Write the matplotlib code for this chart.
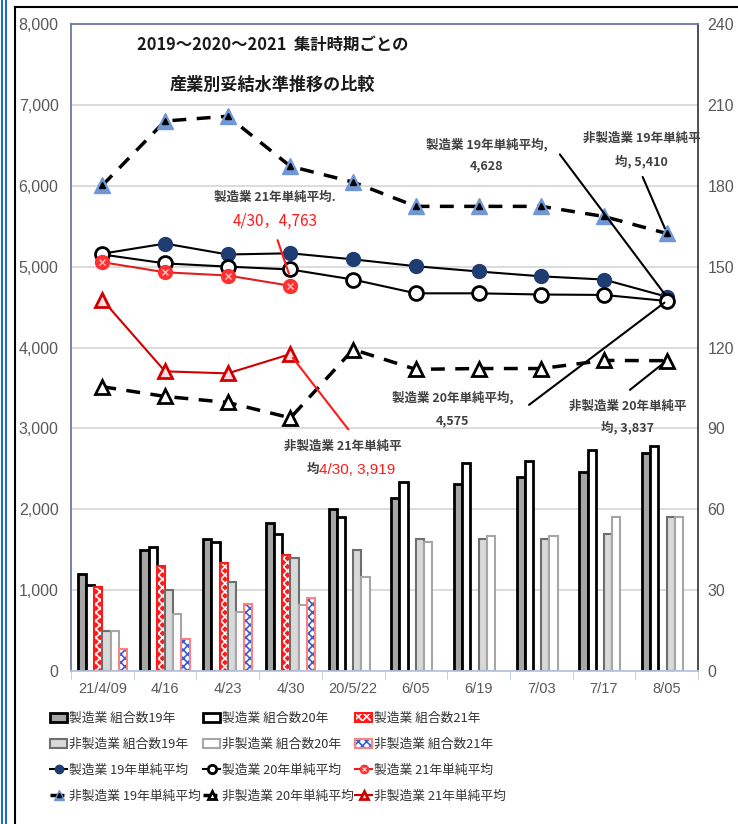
import numpy as np
import matplotlib
matplotlib.use('Agg')
import matplotlib.pyplot as plt
from matplotlib.patches import Patch
from matplotlib.lines import Line2D

plt.rcParams['font.family'] = ['Noto Sans CJK JP', 'DejaVu Sans']
plt.rcParams['hatch.linewidth'] = 1.2

# 集計時期
dates = ['21/4/09', '4/16', '4/23', '4/30', '20/5/22', '6/05', '6/19', '7/03', '7/17', '8/05']
nan = np.nan

# 組合数 (右軸)
cnt_mfg19 = [36, 45, 49, 55, 60, 64, 69.5, 72, 74, 81]
cnt_mfg20 = [32, 46, 48, 51, 57, 70, 77, 78, 82, 83.5]
cnt_mfg21 = [31, 39, 40, 43, nan, nan, nan, nan, nan, nan]
cnt_non19 = [15, 30, 33, 42, 45, 49, 49, 49, 51, 57]
cnt_non20 = [15, 21, 22, 24.5, 35, 48, 50, 50, 57, 57]
cnt_non21 = [8, 12, 25, 27, nan, nan, nan, nan, nan, nan]

# 単純平均 (左軸, 円)
avg_mfg19 = [5160, 5285, 5150, 5165, 5090, 5005, 4940, 4880, 4840, 4628]
avg_mfg20 = [5150, 5040, 5000, 4965, 4840, 4670, 4670, 4655, 4650, 4575]
avg_mfg21 = [5055, 4930, 4890, 4763, nan, nan, nan, nan, nan, nan]
avg_non19 = [6005, 6800, 6860, 6240, 6045, 5745, 5745, 5745, 5620, 5410]
avg_non20 = [3515, 3395, 3320, 3130, 3975, 3730, 3740, 3740, 3840, 3837]
avg_non21 = [4590, 3705, 3680, 3919, nan, nan, nan, nan, nan, nan]

x = np.arange(len(dates))
fig = plt.figure(figsize=(7.38, 8.24), dpi=100)
ax = fig.add_axes([71 / 738, 1 - 671 / 824, 627 / 738, 647 / 824])
ax2 = ax.twinx()
ax.set_zorder(ax2.get_zorder() + 1)
ax.patch.set_visible(False)

# 棒グラフ
bw = 0.131
off = lambda i: (i - 2.5) * bw
ax2.bar(x + off(0), cnt_mfg19, bw, color='#a6a6a6', edgecolor='black', lw=2)
ax2.bar(x + off(1), cnt_mfg20, bw, color='white', edgecolor='black', lw=2)
ax2.bar(x + off(2), cnt_mfg21, bw, color='#ff1a1a', edgecolor='white', hatch='xxxx', lw=0)
ax2.bar(x + off(2), cnt_mfg21, bw, fill=False, edgecolor='#ff1a1a', lw=1.5)
ax2.bar(x + off(3), cnt_non19, bw, color='#d9d9d9', edgecolor='#6e6e6e', lw=1.5)
ax2.bar(x + off(4), cnt_non20, bw, color='white', edgecolor='#a6a6a6', lw=1.5)
ax2.bar(x + off(5), cnt_non21, bw, color='white', edgecolor='#3a5fcd', hatch='xxxx', lw=0)
ax2.bar(x + off(5), cnt_non21, bw, fill=False, edgecolor='#ff8080', lw=1.5)

ax2.set_ylim(0, 240)
ax2.set_yticks(np.arange(0, 241, 30))
ax2.yaxis.grid(True, color='#d9d9d9', lw=1.3)
ax2.set_axisbelow(True)
ax2.tick_params(axis='y', length=0, labelcolor='#595959', labelsize=11.5, pad=7)
for lab in ax2.get_yticklabels():
    lab.set_family(['Liberation Sans'])
for s in ax2.spines.values():
    s.set_visible(False)

# 折れ線
l1, = ax.plot(x, avg_mfg19, '-', color='black', lw=1.5, marker='o', ms=10,
              mfc='#1f3c73', mec='#1f3c73')
l2, = ax.plot(x, avg_mfg20, '-', color='black', lw=1.5, marker='o', ms=10,
              mfc='white', mec='black', mew=2)
l3, = ax.plot(x, avg_mfg21, '-', color='#e02020', lw=1.5, marker='o', ms=10,
              mfc='#ff3030', mec='#ff3030')
l3b, = ax.plot(x, avg_mfg21, ls='none', marker='x', ms=4, mec='#ffc0c0', mew=1)
l4, = ax.plot(x, avg_non19, '--', color='black', lw=2.5, dashes=(4, 3), marker='^', ms=11,
              mfc='#6f97d6', mec='#6f97d6')
l4b, = ax.plot(x, avg_non19, ls='none', marker='^', ms=5, mfc='black', mec='black')
l5, = ax.plot(x, avg_non20, '--', color='black', lw=2.5, dashes=(4, 3), marker='^', ms=10,
              mfc='white', mec='black', mew=2)
l6, = ax.plot(x, avg_non21, '-', color='#d00000', lw=1.5, marker='^', ms=10,
              mfc='#ffe0e0', mec='#d00000', mew=2)

ax.set_xlim(-0.5, 9.5)
ax.set_ylim(0, 8000)
ax.set_yticks(np.arange(0, 8001, 1000))
ax.set_yticklabels([f'{v:,}' for v in range(0, 8001, 1000)], family=['Liberation Sans'])
ax.tick_params(axis='y', length=0, labelcolor='#595959', labelsize=11.5, pad=9)
ax.set_xticks(x)
ax.set_xticklabels(dates, family=['Liberation Sans'])
ax.tick_params(axis='x', length=0, labelcolor='#595959', labelsize=10.5, pad=8)
ax.set_xticks(np.arange(-0.5, 10, 1), minor=True)
ax.tick_params(axis='x', which='minor', length=6, color='#b8c4e0')
ax.spines['left'].set_color('#6a78a8')
ax.spines['top'].set_color('#6a78a8')
ax.spines['right'].set_color('#404040')
ax.spines['bottom'].set_color('#b8c4e0')
for s in ax.spines.values():
    s.set_linewidth(1.3)

# 注記
tc = '#404040'
af = dict(fontsize=9, color=tc, fontweight='bold', ha='center', va='center')
ax.text(2.75, 5860, '製造業 21年単純平均.', **af)
ax.text(2.75, 5560, '4/30，4,763', fontsize=11, color='#ff1a1a', ha='center', va='center')
ax.annotate('', xy=(2.99, 4880), xytext=(2.78, 5360),
            arrowprops=dict(arrowstyle='-', color='#ff1a1a', lw=1.5))

ax.text(6.13, 6510, '製造業 19年単純平均,', **af)
ax.text(6.13, 6240, '4,628', **af)
ax.annotate('', xy=(9, avg_mfg19[-1]), xytext=(7.27, 6415),
            arrowprops=dict(arrowstyle='-', color='black', lw=1.5))

ax.text(8.6, 6590, '非製造業 19年単純平', **af)
ax.text(8.6, 6300, '均, 5,410', **af)
ax.annotate('', xy=(8.99, avg_non19[-1] + 30), xytext=(8.6, 6140),
            arrowprops=dict(arrowstyle='-', color='black', lw=1.5))

ax.text(5.59, 3380, '製造業 20年単純平均,', **af)
ax.text(5.59, 3095, '4,575', **af)
ax.annotate('', xy=(9, avg_mfg20[-1]), xytext=(6.77, 3270),
            arrowprops=dict(arrowstyle='-', color='black', lw=1.5))

ax.text(8.38, 3270, '非製造業 20年単純平', **af)
ax.text(8.38, 3010, '均, 3,837', **af)
ax.annotate('', xy=(9, avg_non20[-1]), xytext=(8.38, 3455),
            arrowprops=dict(arrowstyle='-', color='black', lw=1.5))

ax.text(3.84, 2775, '非製造業 21年単純平', **af)
ax.text(3.36, 2490, '均', **af)
ax.text(3.45, 2490, '4/30, 3,919', fontsize=11, color='#ff1a1a', ha='left', va='center',
        family=['Liberation Sans'])
ax.annotate('', xy=(3.95, 2960), xytext=(3.01, 3900),
            arrowprops=dict(arrowstyle='-', color='#ff1a1a', lw=1.5))

# タイトル
fig.text(273 / 738, 1 - 45 / 824, '2019～2020～2021  集計時期ごとの', fontsize=11.8,
         fontweight='bold', ha='center', va='center', color='#1a1a1a')
fig.text(272 / 738, 1 - 85 / 824, '産業別妥結水準推移の比較', fontsize=12.3,
         fontweight='bold', ha='center', va='center', color='#1a1a1a')

# 凡例 (列ごとに配置)
p1 = Patch(facecolor='#a6a6a6', edgecolor='black', lw=2)
p2 = Patch(facecolor='white', edgecolor='black', lw=2)
p3 = (Patch(facecolor='#ff1a1a', edgecolor='white', hatch='xxxx', lw=0),
      Patch(fill=False, edgecolor='#ff1a1a', lw=1.5))
p4 = Patch(facecolor='#d9d9d9', edgecolor='#6e6e6e', lw=1.5)
p5 = Patch(facecolor='white', edgecolor='#a6a6a6', lw=1.5)
p6 = (Patch(facecolor='white', edgecolor='#3a5fcd', hatch='xxxx', lw=0),
      Patch(fill=False, edgecolor='#ff8080', lw=1.5))
columns = [
    ([p1, p4, l1, (l4, l4b)],
     ['製造業 組合数19年', '非製造業 組合数19年', '製造業 19年単純平均', '非製造業 19年単純平均']),
    ([p2, p5, l2, l5],
     ['製造業 組合数20年', '非製造業 組合数20年', '製造業 20年単純平均', '非製造業 20年単純平均']),
    ([p3, p6, (l3, l3b), l6],
     ['製造業 組合数21年', '非製造業 組合数21年', '製造業 21年単純平均', '非製造業 21年単純平均']),
]
col_x = [50, 203, 355]
for (hs, ls), cx in zip(columns, col_x):
    leg = fig.legend(hs, ls, loc='upper left', bbox_to_anchor=(cx / 738, 1 - 712 / 824),
                     frameon=False, fontsize=9.2, handlelength=1.35, handletextpad=0.15,
                     labelspacing=1.0, markerscale=0.6, borderpad=0, borderaxespad=0)
    for t in leg.get_texts():
        t.set_color('#333333')

# 外枠
fig.add_artist(Line2D([15 / 738, 15 / 738], [0, 1 - 7 / 824], color='black', lw=1.5))
fig.add_artist(Line2D([15 / 738, 1], [1 - 7 / 824, 1 - 7 / 824], color='black', lw=1.5))
fig.add_artist(Line2D([1.5 / 738, 1.5 / 738], [0, 1], color='#1f6fc0', lw=1.5))
fig.add_artist(Line2D([5.5 / 738, 5.5 / 738], [0, 1], color='#1f6fc0', lw=1.5))

fig.savefig('out.png', dpi=100)
